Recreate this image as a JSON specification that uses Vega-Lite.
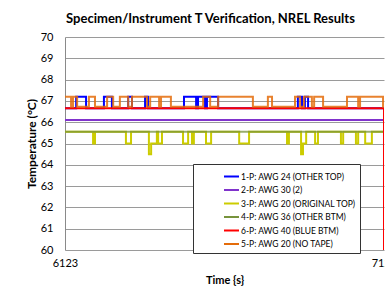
{
  "$schema": "https://vega.github.io/schema/vega-lite/v6.json",
  "width": 319,
  "height": 213,
  "autosize": {"type": "none"},
  "padding": {"left": 65, "top": 37, "right": 1, "bottom": 38},
  "background": "white",
  "config": {
    "view": {"stroke": null},
    "font": "Lato"
  },
  "title": {
    "text": "Specimen/Instrument T Verification, NREL Results",
    "font": "Lato",
    "fontSize": 13,
    "fontWeight": "bold",
    "color": "#000000",
    "anchor": "middle",
    "dx": -14,
    "offset": 5
  },
  "data": {
    "values": [
      {"s": "1-P: AWG 24 (OTHER TOP)", "t": 6123, "v": 66.66},
      {"s": "1-P: AWG 24 (OTHER TOP)", "t": 6158, "v": 67.2},
      {"s": "1-P: AWG 24 (OTHER TOP)", "t": 6189, "v": 66.66},
      {"s": "1-P: AWG 24 (OTHER TOP)", "t": 6245, "v": 67.2},
      {"s": "1-P: AWG 24 (OTHER TOP)", "t": 6270, "v": 66.66},
      {"s": "1-P: AWG 24 (OTHER TOP)", "t": 6321, "v": 67.2},
      {"s": "1-P: AWG 24 (OTHER TOP)", "t": 6333, "v": 66.66},
      {"s": "1-P: AWG 24 (OTHER TOP)", "t": 6374, "v": 67.2},
      {"s": "1-P: AWG 24 (OTHER TOP)", "t": 6383, "v": 66.66},
      {"s": "1-P: AWG 24 (OTHER TOP)", "t": 6496, "v": 67.2},
      {"s": "1-P: AWG 24 (OTHER TOP)", "t": 6534, "v": 66.66},
      {"s": "1-P: AWG 24 (OTHER TOP)", "t": 6540, "v": 67.2},
      {"s": "1-P: AWG 24 (OTHER TOP)", "t": 6562, "v": 66.66},
      {"s": "1-P: AWG 24 (OTHER TOP)", "t": 6568, "v": 67.2},
      {"s": "1-P: AWG 24 (OTHER TOP)", "t": 6603, "v": 66.66},
      {"s": "1-P: AWG 24 (OTHER TOP)", "t": 6853, "v": 67.2},
      {"s": "1-P: AWG 24 (OTHER TOP)", "t": 6866, "v": 66.66},
      {"s": "1-P: AWG 24 (OTHER TOP)", "t": 6875, "v": 67.2},
      {"s": "1-P: AWG 24 (OTHER TOP)", "t": 6885, "v": 66.66},
      {"s": "1-P: AWG 24 (OTHER TOP)", "t": 7123, "v": 66.66},

      {"s": "2-P: AWG 30 (2)", "t": 6123, "v": 66.1},
      {"s": "2-P: AWG 30 (2)", "t": 7123, "v": 66.1},

      {"s": "3-P: AWG 20 (ORIGINAL TOP)", "t": 6123, "v": 65.55},
      {"s": "3-P: AWG 20 (ORIGINAL TOP)", "t": 6211, "v": 65.0},
      {"s": "3-P: AWG 20 (ORIGINAL TOP)", "t": 6217, "v": 65.55},
      {"s": "3-P: AWG 20 (ORIGINAL TOP)", "t": 6314, "v": 65.0},
      {"s": "3-P: AWG 20 (ORIGINAL TOP)", "t": 6330, "v": 65.55},
      {"s": "3-P: AWG 20 (ORIGINAL TOP)", "t": 6386, "v": 64.5},
      {"s": "3-P: AWG 20 (ORIGINAL TOP)", "t": 6393, "v": 65.0},
      {"s": "3-P: AWG 20 (ORIGINAL TOP)", "t": 6411, "v": 65.55},
      {"s": "3-P: AWG 20 (ORIGINAL TOP)", "t": 6415, "v": 65.0},
      {"s": "3-P: AWG 20 (ORIGINAL TOP)", "t": 6427, "v": 65.55},
      {"s": "3-P: AWG 20 (ORIGINAL TOP)", "t": 6493, "v": 65.0},
      {"s": "3-P: AWG 20 (ORIGINAL TOP)", "t": 6509, "v": 65.55},
      {"s": "3-P: AWG 20 (ORIGINAL TOP)", "t": 6521, "v": 65.0},
      {"s": "3-P: AWG 20 (ORIGINAL TOP)", "t": 6527, "v": 65.55},
      {"s": "3-P: AWG 20 (ORIGINAL TOP)", "t": 6565, "v": 65.0},
      {"s": "3-P: AWG 20 (ORIGINAL TOP)", "t": 6581, "v": 65.55},
      {"s": "3-P: AWG 20 (ORIGINAL TOP)", "t": 6669, "v": 65.0},
      {"s": "3-P: AWG 20 (ORIGINAL TOP)", "t": 6700, "v": 65.55},
      {"s": "3-P: AWG 20 (ORIGINAL TOP)", "t": 6819, "v": 65.0},
      {"s": "3-P: AWG 20 (ORIGINAL TOP)", "t": 6825, "v": 65.55},
      {"s": "3-P: AWG 20 (ORIGINAL TOP)", "t": 6863, "v": 64.5},
      {"s": "3-P: AWG 20 (ORIGINAL TOP)", "t": 6869, "v": 65.0},
      {"s": "3-P: AWG 20 (ORIGINAL TOP)", "t": 6879, "v": 65.55},
      {"s": "3-P: AWG 20 (ORIGINAL TOP)", "t": 6907, "v": 65.0},
      {"s": "3-P: AWG 20 (ORIGINAL TOP)", "t": 6916, "v": 65.55},
      {"s": "3-P: AWG 20 (ORIGINAL TOP)", "t": 6988, "v": 65.0},
      {"s": "3-P: AWG 20 (ORIGINAL TOP)", "t": 6995, "v": 65.55},
      {"s": "3-P: AWG 20 (ORIGINAL TOP)", "t": 7035, "v": 65.0},
      {"s": "3-P: AWG 20 (ORIGINAL TOP)", "t": 7042, "v": 65.55},
      {"s": "3-P: AWG 20 (ORIGINAL TOP)", "t": 7064, "v": 65.0},
      {"s": "3-P: AWG 20 (ORIGINAL TOP)", "t": 7085, "v": 65.55},
      {"s": "3-P: AWG 20 (ORIGINAL TOP)", "t": 7123, "v": 65.55},

      {"s": "4-P: AWG 36 (OTHER BTM)", "t": 6123, "v": 65.55},
      {"s": "4-P: AWG 36 (OTHER BTM)", "t": 7123, "v": 65.55},

      {"s": "6-P: AWG 40 (BLUE BTM)", "t": 6123, "v": 66.66},
      {"s": "6-P: AWG 40 (BLUE BTM)", "t": 7123, "v": 50},

      {"s": "5-P: AWG 20 (NO TAPE)", "t": 6123, "v": 67.2},
      {"s": "5-P: AWG 20 (NO TAPE)", "t": 6142, "v": 66.72},
      {"s": "5-P: AWG 20 (NO TAPE)", "t": 6148, "v": 67.2},
      {"s": "5-P: AWG 20 (NO TAPE)", "t": 6161, "v": 66.72},
      {"s": "5-P: AWG 20 (NO TAPE)", "t": 6198, "v": 67.2},
      {"s": "5-P: AWG 20 (NO TAPE)", "t": 6217, "v": 66.72},
      {"s": "5-P: AWG 20 (NO TAPE)", "t": 6255, "v": 67.2},
      {"s": "5-P: AWG 20 (NO TAPE)", "t": 6274, "v": 66.72},
      {"s": "5-P: AWG 20 (NO TAPE)", "t": 6295, "v": 67.2},
      {"s": "5-P: AWG 20 (NO TAPE)", "t": 6321, "v": 66.72},
      {"s": "5-P: AWG 20 (NO TAPE)", "t": 6333, "v": 67.2},
      {"s": "5-P: AWG 20 (NO TAPE)", "t": 6380, "v": 66.72},
      {"s": "5-P: AWG 20 (NO TAPE)", "t": 6390, "v": 67.2},
      {"s": "5-P: AWG 20 (NO TAPE)", "t": 6418, "v": 66.72},
      {"s": "5-P: AWG 20 (NO TAPE)", "t": 6424, "v": 67.2},
      {"s": "5-P: AWG 20 (NO TAPE)", "t": 6455, "v": 66.72},
      {"s": "5-P: AWG 20 (NO TAPE)", "t": 6556, "v": 67.2},
      {"s": "5-P: AWG 20 (NO TAPE)", "t": 6578, "v": 66.72},
      {"s": "5-P: AWG 20 (NO TAPE)", "t": 6603, "v": 67.2},
      {"s": "5-P: AWG 20 (NO TAPE)", "t": 6712, "v": 66.72},
      {"s": "5-P: AWG 20 (NO TAPE)", "t": 6759, "v": 67.2},
      {"s": "5-P: AWG 20 (NO TAPE)", "t": 6772, "v": 66.72},
      {"s": "5-P: AWG 20 (NO TAPE)", "t": 6844, "v": 67.2},
      {"s": "5-P: AWG 20 (NO TAPE)", "t": 6860, "v": 66.72},
      {"s": "5-P: AWG 20 (NO TAPE)", "t": 6872, "v": 67.2},
      {"s": "5-P: AWG 20 (NO TAPE)", "t": 6897, "v": 66.72},
      {"s": "5-P: AWG 20 (NO TAPE)", "t": 6904, "v": 67.2},
      {"s": "5-P: AWG 20 (NO TAPE)", "t": 6932, "v": 66.72},
      {"s": "5-P: AWG 20 (NO TAPE)", "t": 7007, "v": 67.2},
      {"s": "5-P: AWG 20 (NO TAPE)", "t": 7042, "v": 66.72},
      {"s": "5-P: AWG 20 (NO TAPE)", "t": 7048, "v": 67.2},
      {"s": "5-P: AWG 20 (NO TAPE)", "t": 7120, "v": 66.72},
      {"s": "5-P: AWG 20 (NO TAPE)", "t": 7123, "v": 66.72}
    ]
  },
  "encoding": {
    "x": {
      "field": "t",
      "type": "quantitative",
      "title": "Time {s}",
      "scale": {"domain": [6123, 7123], "nice": false, "zero": false},
      "axis": {
        "values": [6123, 7123],
        "format": "d",
        "grid": false,
        "ticks": false,
        "domain": false,
        "labelFont": "Lato",
        "labelFontSize": 11,
        "labelColor": "#000000",
        "labelPadding": 7,
        "labelOverlap": false,
        "labelBound": false,
        "labelFlush": false,
        "titleFont": "Lato",
        "titleFontSize": 11,
        "titleFontWeight": "bold",
        "titleColor": "#000000",
        "titlePadding": 6
      }
    },
    "y": {
      "field": "v",
      "type": "quantitative",
      "title": "Temperature (°C)",
      "scale": {"domain": [60, 70], "nice": false, "zero": false},
      "axis": {
        "values": [60, 61, 62, 63, 64, 65, 66, 67, 68, 69, 70],
        "grid": true,
        "gridColor": "#9a9a9a",
        "gridWidth": 1,
        "ticks": false,
        "domain": true,
        "domainColor": "#8a8a8a",
        "labelFont": "Lato",
        "labelFontSize": 11,
        "labelColor": "#000000",
        "labelPadding": 12,
        "titleFont": "Lato",
        "titleFontSize": 12,
        "titleFontWeight": "bold",
        "titleColor": "#000000",
        "titlePadding": 2
      }
    },
    "color": {
      "field": "s",
      "type": "nominal",
      "scale": {
        "domain": ["1-P: AWG 24 (OTHER TOP)", "2-P: AWG 30 (2)", "3-P: AWG 20 (ORIGINAL TOP)", "4-P: AWG 36 (OTHER BTM)", "6-P: AWG 40 (BLUE BTM)", "5-P: AWG 20 (NO TAPE)"],
        "range": ["#0000FF", "#8033CC", "#CCCC00", "#77933C", "#FF0000", "#E46C0A"]
      },
      "legend": {
        "title": null,
        "orient": "none",
        "legendX": 128,
        "legendY": 127,
        "direction": "vertical",
        "padding": 4,
        "symbolOffset": 26,
        "symbolType": "stroke",
        "symbolSize": 225,
        "symbolStrokeWidth": 2,
        "labelFont": "Lato",
        "labelFontSize": 8.5,
        "labelColor": "#000000",
        "labelOffset": 1,
        "rowPadding": 0.5,
        "strokeColor": "#333333",
        "fillColor": "#FFFFFF"
      }
    }
  },
  "layer": [
    {"transform": [{"filter": "datum.s === '1-P: AWG 24 (OTHER TOP)'"}], "mark": {"type": "line", "interpolate": "step-after", "clip": true, "strokeWidth": 2}},
    {"transform": [{"filter": "datum.s === '2-P: AWG 30 (2)'"}], "mark": {"type": "line", "interpolate": "step-after", "clip": true, "strokeWidth": 2}},
    {"transform": [{"filter": "datum.s === '3-P: AWG 20 (ORIGINAL TOP)'"}], "mark": {"type": "line", "interpolate": "step-after", "clip": true, "strokeWidth": 2}},
    {"transform": [{"filter": "datum.s === '4-P: AWG 36 (OTHER BTM)'"}], "mark": {"type": "line", "interpolate": "step-after", "clip": true, "strokeWidth": 2, "strokeOpacity": 0.75}},
    {"transform": [{"filter": "datum.s === '6-P: AWG 40 (BLUE BTM)'"}], "mark": {"type": "line", "interpolate": "step-after", "clip": true, "strokeWidth": 2}},
    {"transform": [{"filter": "datum.s === '5-P: AWG 20 (NO TAPE)'"}], "mark": {"type": "line", "interpolate": "step-after", "clip": true, "strokeWidth": 2, "strokeOpacity": 0.85}}
  ]
}
